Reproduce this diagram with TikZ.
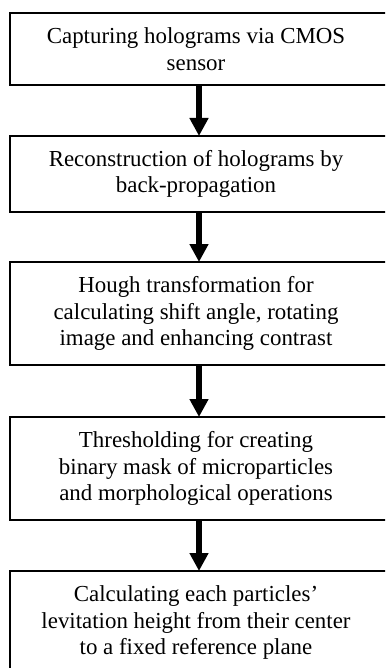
\documentclass[tikz,border=0pt]{standalone}
\usepackage{fontspec}
\setmainfont{Liberation Serif}
\usetikzlibrary{arrows.meta}

\begin{document}
\begin{tikzpicture}[x=1pt,y=1pt,
	stage/.style={draw,line width=2pt,minimum width=378pt,inner sep=0pt,outer sep=0pt,anchor=north},
	caption/.style={inner sep=0pt,xshift=-3pt,align=center,font=\fontsize{22.9pt}{26.5pt}\selectfont},
	flow/.style={line width=6pt,-{Triangle[width=18pt,length=18pt]}}]
		\clip (0,0) rectangle (385,-668);
		\node[stage,minimum height=72pt] (capture) at (199,-13) {};
		\node[stage,minimum height=76pt] (recon) at (199,-136) {};
		\node[stage,minimum height=103pt] (hough) at (199,-262) {};
		\node[stage,minimum height=103pt] (thresh) at (199,-417) {};
		\node[stage,minimum height=103pt] (height) at (199,-571) {};
		\node[caption] (captureText) at (capture.center) {Capturing holograms via CMOS\\sensor};
		\node[caption] (reconText) at (recon.center) {Reconstruction of holograms by\\back-propagation};
		\node[caption] (houghText) at (hough.center) {Hough transformation for\\calculating shift angle, rotating\\image and enhancing contrast};
		\node[caption] (threshText) at (thresh.center) {Thresholding for creating\\binary mask of microparticles\\and morphological operations};
		\node[caption] (heightText) at (height.center) {Calculating each particles’\\levitation height from their center\\to a fixed reference plane};
		\draw[flow] (capture) -- (recon);
		\draw[flow] (recon) -- (hough);
		\draw[flow] (hough) -- (thresh);
		\draw[flow] (thresh) -- (height);
	\end{tikzpicture}
\end{document}
